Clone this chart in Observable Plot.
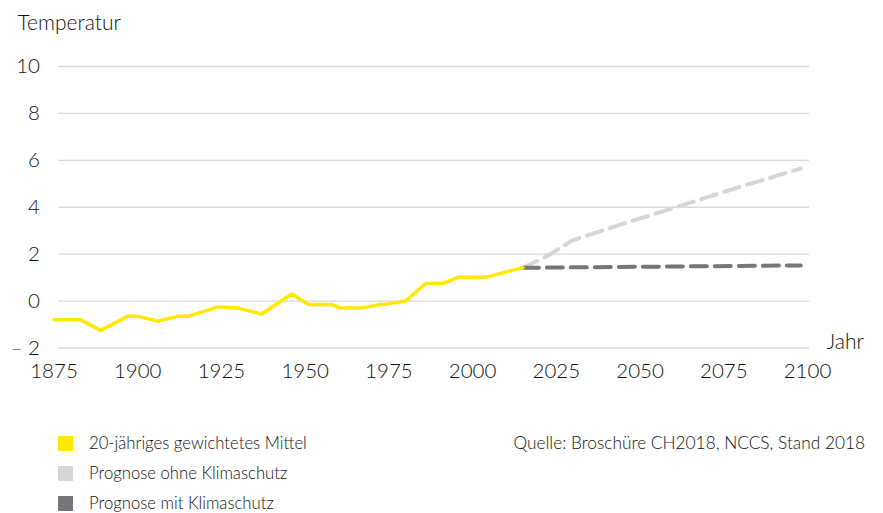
<!DOCTYPE html>
<html>
<head>
<meta charset="utf-8">
<script src="https://cdn.jsdelivr.net/npm/d3@7"></script>
<script src="https://cdn.jsdelivr.net/npm/@observablehq/plot@0.6"></script>
<style>
  html, body { margin: 0; padding: 0; background: #fff; }
  body { width: 883px; height: 513px; position: relative; overflow: hidden; font-family: Lato, "Open Sans", sans-serif; font-weight: 300; color: #111; }
  #chart svg { display: block; }
  .legend { position: absolute; left: 58px; top: 0; }
  .item { position: absolute; left: 0; display: flex; align-items: center; height: 20px; white-space: nowrap; font-size: 16.7px; }
  .sw { width: 15px; height: 15px; margin-right: 16px; flex: none; }
  .source { position: absolute; right: 18px; font-size: 17.3px; white-space: nowrap; height: 20px; line-height: 20px; }
</style>
</head>
<body>
<div id="chart"></div>
<div class="legend" id="legend"></div>
<div class="source" id="source"></div>
<script>
// ---- data ----
const histYears = [1875,1883,1889,1897,1900,1906,1912,1915,1924,1930,1937,1946,1951,1958,1960,1967,1972,1974,1980,1986,1991,1996,2004,2015];
const histTemps = [-0.8,-0.8,-1.25,-0.65,-0.65,-0.85,-0.65,-0.65,-0.25,-0.3,-0.55,0.3,-0.15,-0.15,-0.28,-0.3,-0.15,-0.13,0.0,0.75,0.75,1.02,1.02,1.42];
const ohneYears = [2015,2022,2030,2045,2060,2080,2098];
const ohneTemps = [1.42,1.9,2.6,3.3,3.97,4.88,5.65];
const mitYears = [2015,2098];
const mitTemps = [1.42,1.52];
const xTicks = [1875,1900,1925,1950,1975,2000,2025,2050,2075,2100];
const yTicks = [-2,0,2,4,6,8,10];
const seriesNames = ["20-jähriges gewichtetes Mittel","Prognose ohne Klimaschutz","Prognose mit Klimaschutz"];
const seriesColors = ["#ffe900","#d5d5d5","#76767b"];
const yTitle = "Temperatur";
const xTitle = "Jahr";
const sourceText = "Quelle: Broschüre CH2018, NCCS, Stand 2018";

const hist = histYears.map((y,i) => ({year: y, t: histTemps[i]}));
const ohne = ohneYears.map((y,i) => ({year: y, t: ohneTemps[i]}));
const mit = mitYears.map((y,i) => ({year: y, t: mitTemps[i]}));

const fmtY = d => d < 0 ? "\u2013 " + Math.abs(d) : String(d);

const chart = Plot.plot({
  width: 883,
  height: 395,
  marginLeft: 53.5,
  marginRight: 76,
  marginTop: 66,
  marginBottom: 47.5,
  style: {fontFamily: "Lato, 'Open Sans', sans-serif", fontWeight: 300, fontSize: "20px", color: "#111", background: "#fff"},
  x: {domain: [1875, 2100], ticks: xTicks, tickFormat: d => String(d)},
  y: {domain: [-2, 10], ticks: yTicks, tickFormat: fmtY},
  marks: [
    Plot.gridY(yTicks, {stroke: "#d9d9d9", strokeOpacity: 1, strokeWidth: 1.3, insetLeft: 4.5, insetRight: -2}),
    Plot.axisY({ticks: yTicks, tickFormat: fmtY, tickSize: 0, tickPadding: 14, label: null, fontSize: 20.5, fill: "#111"}),
    Plot.axisX({ticks: xTicks, tickFormat: d => String(d), tickSize: 0, tickPadding: 15, label: null, fontSize: 20.5, fill: "#111"}),
    Plot.line(ohne, {x: "year", y: "t", stroke: seriesColors[1], strokeWidth: 4, strokeDasharray: "16,8"}),
    Plot.line(mit, {x: "year", y: "t", stroke: seriesColors[2], strokeWidth: 4, strokeDasharray: "16,8"}),
    Plot.line(hist, {x: "year", y: "t", stroke: seriesColors[0], strokeWidth: 3.5, strokeLinejoin: "round"}),
    Plot.text([yTitle], {frameAnchor: "top-left", dx: -36.5, dy: -43, textAnchor: "start", lineAnchor: "middle", fontSize: 21, fill: "#111"}),
    Plot.text([xTitle], {frameAnchor: "bottom-right", dx: 19, dy: -6, textAnchor: "start", lineAnchor: "middle", fontSize: 21, fill: "#111"})
  ]
});
document.getElementById("chart").appendChild(chart);

const legend = document.getElementById("legend");
const rowTops = [433, 463, 493];
seriesNames.forEach((name, i) => {
  const item = document.createElement("div");
  item.className = "item";
  item.style.top = rowTops[i] + "px";
  const sw = document.createElement("span");
  sw.className = "sw";
  sw.style.background = seriesColors[i];
  const label = document.createElement("span");
  label.textContent = name;
  item.appendChild(sw);
  item.appendChild(label);
  legend.appendChild(item);
});
const src = document.getElementById("source");
src.textContent = sourceText;
src.style.top = "433px";
</script>
</body>
</html>
